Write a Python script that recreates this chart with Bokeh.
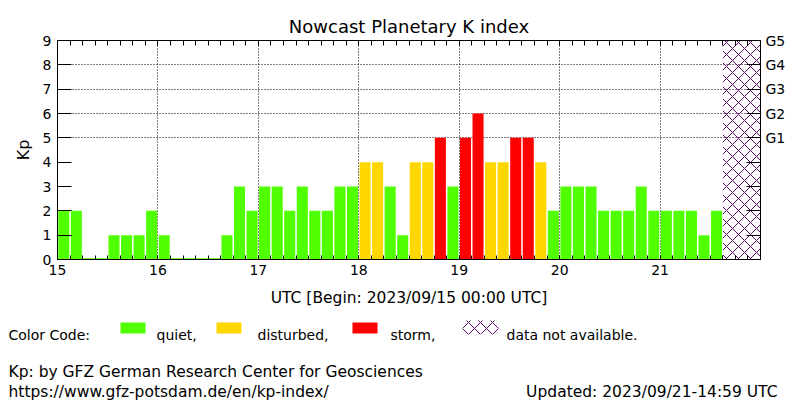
import numpy as np
from bokeh.plotting import figure
from bokeh.models import Range1d, LinearAxis, FixedTicker, ColumnDataSource
from bokeh.layouts import column
from bokeh.core.properties import value
from bokeh.embed import file_html
from bokeh.resources import INLINE

# ---------------- data ----------------
days = [15, 16, 17, 18, 19, 20, 21]
kp_day15 = [2, 2, 0, 0, 1, 1, 1, 2]
kp_day16 = [1, 0, 0, 0, 0, 1, 3, 2]
kp_day17 = [3, 3, 2, 3, 2, 2, 3, 3]
kp_day18 = [4, 4, 3, 1, 4, 4, 5, 3]
kp_day19 = [5, 6, 4, 4, 5, 5, 4, 2]
kp_day20 = [3, 3, 3, 2, 2, 2, 3, 2]
kp_day21 = [2, 2, 2, 1, 2]
g_labels = ["G1", "G2", "G3", "G4", "G5"]
g_levels = [5, 6, 7, 8, 9]

title = "Nowcast Planetary K index"
xlabel = "UTC [Begin: 2023/09/15 00:00 UTC]"
updated = "Updated: 2023/09/21-14:59 UTC"
credit1 = "Kp: by GFZ German Research Center for Geosciences"
credit2 = "https://www.gfz-potsdam.de/en/kp-index/"
legend_labels = ["Color Code:", "quiet,", "disturbed,", "storm,", "data not available."]

# ---------------- styles ----------------
C_QUIET = "#50ff00"
C_DIST = "#ffd700"
C_STORM = "#ff0000"
C_HATCH = "#5a0a66"
FONT = "DejaVu Sans"
FS = "14px"
FS_WIDE = "15.5px"

# page geometry (pixels)
W, H = 800, 400
F_LEFT, F_TOP, F_W, F_H = 57, 40, 703, 219
H1 = 310  # height of the chart figure; footer figure takes the rest

kp = np.array(kp_day15 + kp_day16 + kp_day17 + kp_day18 + kp_day19 + kp_day20 + kp_day21, dtype=float)
start = days[0]
end = days[-1] + 1
step = 3.0 / 24.0
n = len(kp)
centers = start + (np.arange(n) + 0.5) * step
colors = [C_QUIET if v < 4 else (C_DIST if v < 5 else C_STORM) for v in kp]
tops = np.maximum(kp, 0.05)  # zero values still shown as a hairline
last_t = start + n * step

src = ColumnDataSource(dict(x=centers, top=tops, color=colors))

p = figure(frame_width=F_W, frame_height=F_H,
           x_range=Range1d(start, end), y_range=Range1d(0, 9),
           output_backend="svg", toolbar_location=None,
           min_border_left=F_LEFT, min_border_right=W - F_LEFT - F_W,
           min_border_top=F_TOP, min_border_bottom=H1 - F_TOP - F_H)
p.frame_align = False
p.background_fill_color = "white"
p.border_fill_color = "white"
p.outline_line_color = "black"
p.outline_line_width = 1

p.title.text = title
p.title.align = "center"
p.title.text_font = FONT
p.title.text_font_size = "18px"
p.title.text_font_style = "normal"
p.title.text_color = "black"
p.title.standoff = 7

# grids
p.xgrid.ticker = FixedTicker(ticks=days[1:])
p.ygrid.ticker = FixedTicker(ticks=[5, 6, 7, 8])
for g in (p.xgrid[0], p.ygrid[0]):
    g.grid_line_color = "black"
    g.grid_line_dash = "1 2"
    g.grid_line_width = 1

minor = list(start + np.arange(int((end - start) / step) + 1) * step)

# bottom axis
xa = p.xaxis[0]
xa.ticker = FixedTicker(ticks=days, minor_ticks=minor)
xa.major_tick_in = 4
xa.major_tick_out = 0
xa.minor_tick_in = 4
xa.minor_tick_out = 0
xa.axis_line_color = "black"
xa.major_label_text_font = FONT
xa.major_label_text_font_size = FS
xa.major_label_text_color = "black"
xa.major_label_standoff = 5
xa.axis_label = xlabel
xa.axis_label_text_font = FONT
xa.axis_label_text_font_size = FS_WIDE
xa.axis_label_text_font_style = "normal"
xa.axis_label_text_color = "black"
xa.axis_label_standoff = 11

# left axis
ya = p.yaxis[0]
ya.ticker = FixedTicker(ticks=list(range(10)))
ya.major_tick_in = 14
ya.major_tick_out = 0
ya.minor_tick_in = 0
ya.minor_tick_out = 0
ya.major_label_text_font = FONT
ya.major_label_text_font_size = FS
ya.major_label_text_color = "black"
ya.major_label_standoff = 6
ya.axis_label = "Kp"
ya.axis_label_text_font = FONT
ya.axis_label_text_font_size = "16px"
ya.axis_label_text_font_style = "normal"
ya.axis_label_text_color = "black"
ya.axis_label_standoff = 7

# right axis (G levels)
ra = LinearAxis(ticker=FixedTicker(ticks=list(range(1, 10))))
ra.major_label_overrides = {i: "" for i in range(1, 5)}
ra.major_label_overrides.update({lv: lb for lv, lb in zip(g_levels, g_labels)})
ra.major_tick_in = 14
ra.major_tick_out = 0
ra.minor_tick_in = 0
ra.minor_tick_out = 0
ra.major_label_text_font = FONT
ra.major_label_text_font_size = FS
ra.major_label_text_color = "black"
ra.major_label_standoff = 5
p.add_layout(ra, "right")

# top axis (3-hour ticks only)
ta = LinearAxis(ticker=FixedTicker(ticks=[], minor_ticks=minor))
ta.minor_tick_in = 5
ta.minor_tick_out = 0
ta.major_tick_in = 0
ta.major_tick_out = 0
ta.major_label_text_font_size = "0px"
ta.major_label_standoff = 0
p.add_layout(ta, "above")

# bars
p.vbar(x="x", top="top", bottom=0, width=step * 0.88, fill_color="color",
       line_color=None, source=src)

# not-available region
p.quad(left=[last_t], right=[end], bottom=[0], top=[9], fill_color=None,
       line_color=None, hatch_pattern="diagonal_cross", hatch_color=C_HATCH,
       hatch_scale=12, hatch_weight=1)

# ---------------- legend / footer panel (page pixel coordinates) ----------------
q = figure(frame_width=W, frame_height=H - H1,
           x_range=Range1d(0, W), y_range=Range1d(H, H1),
           output_backend="svg", toolbar_location=None,
           x_axis_type=None, y_axis_type=None,
           min_border_left=0, min_border_right=0, min_border_top=0, min_border_bottom=0)
q.frame_align = False
q.outline_line_color = None
q.background_fill_color = "white"
q.border_fill_color = "white"
q.grid.visible = False

sw_left = [120, 216, 352]
sw_right = [145, 241, 377]
q.quad(left=sw_left, right=sw_right, top=[322] * 3, bottom=[333] * 3,
       fill_color=[C_QUIET, C_DIST, C_STORM], line_color=None)
q.quad(left=[462], right=[498], top=[320], bottom=[334], fill_color=None,
       line_color=None, hatch_pattern="diagonal_cross", hatch_color=C_HATCH,
       hatch_scale=12, hatch_weight=1)

leg_x = [8, 156, 257, 390, 506]
q.text(x=leg_x, y=[334] * 5, text=legend_labels, text_font=value(FONT),
       text_font_size=FS, text_baseline="alphabetic", text_align="left",
       text_color="black")
q.text(x=[8, 8], y=[371, 391], text=[credit1, credit2], text_font=value(FONT),
       text_font_size=FS_WIDE, text_baseline="alphabetic", text_align="left",
       text_color="black")
q.text(x=[777], y=[391], text=[updated], text_font=value(FONT),
       text_font_size=FS_WIDE, text_baseline="alphabetic", text_align="right",
       text_color="black")

layout = column(p, q, spacing=0)
open("out.html", "w").write(file_html(layout, INLINE))
